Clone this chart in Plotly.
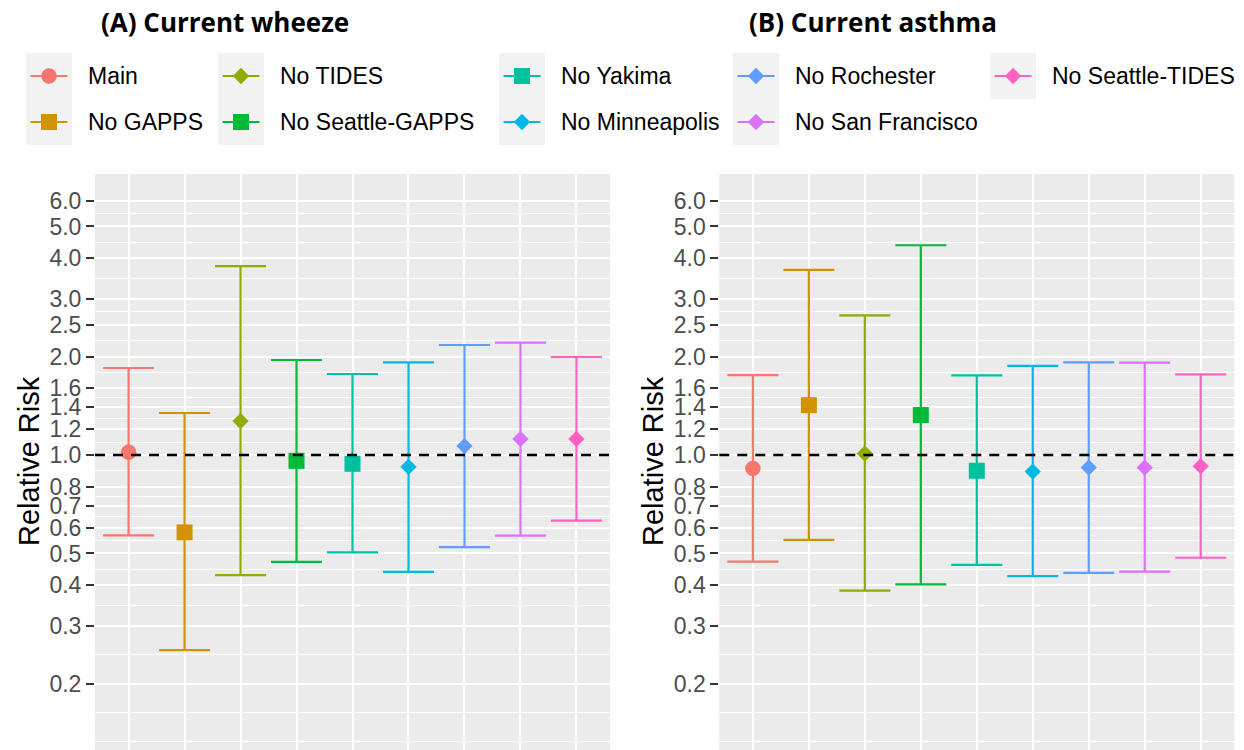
import math
import plotly.graph_objects as go

# ---------------- data ----------------
categories = ["Main", "No GAPPS", "No TIDES", "No Seattle-GAPPS", "No Yakima",
              "No Minneapolis", "No Rochester", "No San Francisco", "No Seattle-TIDES"]

wheeze_rr = [1.02, 0.58, 1.27, 0.96, 0.94, 0.92, 1.065, 1.12, 1.12]
wheeze_lo = [0.568, 0.253, 0.429, 0.471, 0.504, 0.439, 0.523, 0.567, 0.630]
wheeze_hi = [1.845, 1.344, 3.78, 1.952, 1.769, 1.92, 2.17, 2.206, 1.994]

asthma_rr = [0.91, 1.42, 1.01, 1.325, 0.895, 0.89, 0.915, 0.915, 0.924]
asthma_lo = [0.472, 0.550, 0.385, 0.402, 0.461, 0.426, 0.436, 0.440, 0.485]
asthma_hi = [1.756, 3.68, 2.674, 4.38, 1.752, 1.872, 1.92, 1.916, 1.765]

panel_titles = ["(A) Current wheeze", "(B) Current asthma"]
y_title = "Relative Risk"
y_breaks = [0.2, 0.3, 0.4, 0.5, 0.6, 0.7, 0.8, 1.0, 1.2, 1.4, 1.6, 2.0, 2.5, 3.0, 4.0, 5.0, 6.0]
y_labels = ["0.2", "0.3", "0.4", "0.5", "0.6", "0.7", "0.8", "1.0", "1.2", "1.4",
            "1.6", "2.0", "2.5", "3.0", "4.0", "5.0", "6.0"]
ref_value = 1.0

# ---------------- style ----------------
colors = ["#F8766D", "#D39200", "#93AA00", "#00BA38", "#00C19F",
          "#00B9E3", "#619CFF", "#DB72FB", "#FF61C3"]
symbols = ["circle", "square", "diamond", "square", "square",
           "diamond", "diamond", "diamond", "diamond"]
sym_size = {"circle": 15.5, "square": 16, "diamond": 12.5}

W, H = 1244, 750
FONT = "Liberation Sans, Arial, sans-serif"
TITLE_FONT = "Open Sans, Lato, sans-serif"

# panel geometry (pixels)
panel_top = 174
panelA = (95, 610)
panelB = (719.3, 1234.3)
px_per_decade = 327.0
y_one_px = 455.0
y_range = [-(H - y_one_px) / px_per_decade, (y_one_px - panel_top) / px_per_decade]

# minor grid (ggplot style: midpoints in log space + extrapolated break)
lb = [math.log10(v) for v in y_breaks]
ext = lb[0] - (lb[1] - lb[0])
allb = [ext] + lb
minor_vals = [10 ** ext] + [10 ** ((a + b) / 2) for a, b in zip(allb[:-1], allb[1:])]

fig = go.Figure()

datasets = [(wheeze_rr, wheeze_lo, wheeze_hi), (asthma_rr, asthma_lo, asthma_hi)]
for p, (rr, lo, hi) in enumerate(datasets):
    xa = "x" if p == 0 else "x2"
    ya = "y" if p == 0 else "y2"
    for i, cat in enumerate(categories):
        fig.add_trace(go.Scatter(
            x=[cat], y=[rr[i]], xaxis=xa, yaxis=ya, mode="markers",
            marker=dict(color=colors[i], symbol=symbols[i], size=sym_size[symbols[i]],
                        line=dict(width=0)),
            error_y=dict(type="data", symmetric=False,
                         array=[hi[i] - rr[i]], arrayminus=[rr[i] - lo[i]],
                         color=colors[i], thickness=2.2, width=25.5),
            showlegend=False, hoverinfo="skip"))

# ---------------- axes ----------------
def yaxis_cfg():
    return dict(type="log", range=y_range, domain=[0, 1 - panel_top / H],
                tickmode="array", tickvals=y_breaks, ticktext=y_labels,
                ticks="outside", ticklen=8, tickwidth=2, tickcolor="#333333",
                tickfont=dict(family=FONT, size=23, color="#4D4D4D"),
                showgrid=True, gridcolor="white", gridwidth=1.5,
                minor=dict(tickmode="array", tickvals=minor_vals, showgrid=True,
                           gridcolor="white", gridwidth=0.8, ticks=""),
                zeroline=False, showline=False, fixedrange=True)

def xaxis_cfg(rng):
    return dict(type="category", categoryorder="array", categoryarray=categories,
                range=[-0.6, len(categories) - 0.4], domain=[rng[0] / W, rng[1] / W],
                showticklabels=False, ticks="", showgrid=True, gridcolor="white",
                gridwidth=1.5, zeroline=False, showline=False, fixedrange=True)

fig.update_layout(
    width=W, height=H, margin=dict(l=0, r=0, t=0, b=0, pad=0),
    paper_bgcolor="white", plot_bgcolor="rgba(0,0,0,0)", showlegend=False,
    xaxis=dict(**xaxis_cfg(panelA), anchor="y"),
    yaxis=dict(**yaxis_cfg(), anchor="x"),
    xaxis2=dict(**xaxis_cfg(panelB), anchor="y2"),
    yaxis2=dict(**yaxis_cfg(), anchor="x2"),
    xaxis3=dict(domain=[0, 1], range=[0, W], visible=False, anchor="y3", fixedrange=True),
    yaxis3=dict(domain=[0, 1], range=[H, 0], visible=False, anchor="x3", fixedrange=True),
)

# panel backgrounds and reference lines at RR = 1
for xa, ya in (("x", "y"), ("x2", "y2")):
    fig.add_shape(type="rect", xref=f"{xa} domain", yref=f"{ya} domain", x0=0, x1=1, y0=0, y1=1,
                  fillcolor="#EBEBEB", line=dict(width=0), layer="below")
    fig.add_shape(type="line", xref=f"{xa} domain", yref=ya, x0=0, x1=1,
                  y0=ref_value, y1=ref_value, layer="above",
                  line=dict(color="black", width=2.4, dash="10px,8px"))

# panel titles and axis titles (overlay pixel axis)
title_x = [99, 747]
for p in range(2):
    fig.add_annotation(xref="x3", yref="y3", x=title_x[p], y=22, text=f"<b>{panel_titles[p]}</b>",
                       showarrow=False, xanchor="left", yanchor="middle",
                       font=dict(family=TITLE_FONT, size=26, color="black"))
ytitle_x = [29, 653]
for p in range(2):
    fig.add_annotation(xref="x3", yref="y3", x=ytitle_x[p], y=461, text=y_title, textangle=-90,
                       showarrow=False, xanchor="center", yanchor="middle",
                       font=dict(family=FONT, size=29, color="black"))

# ---------------- manual legend (ggplot layout, column-major) ----------------
col_left = [26, 218, 499, 733, 990]
key_w = 46
row_top = [53, 99]
for i, cat in enumerate(categories):
    c, r = i // 2, i % 2
    x0 = col_left[c]
    y0 = row_top[r]
    cy = y0 + key_w / 2
    fig.add_shape(type="rect", xref="x3", yref="y3", x0=x0, x1=x0 + key_w, y0=y0, y1=y0 + key_w,
                  fillcolor="#F2F2F2", line=dict(width=0), layer="below")
    fig.add_shape(type="line", xref="x3", yref="y3", x0=x0 + 4.5, x1=x0 + key_w - 4.5, y0=cy, y1=cy,
                  line=dict(color=colors[i], width=2.2), layer="below")
    fig.add_trace(go.Scatter(x=[x0 + key_w / 2], y=[cy], xaxis="x3", yaxis="y3", mode="markers",
                             marker=dict(color=colors[i], symbol=symbols[i],
                                         size=sym_size[symbols[i]], line=dict(width=0)),
                             showlegend=False, hoverinfo="skip"))
    fig.add_annotation(xref="x3", yref="y3", x=x0 + 60, y=cy, text=cat, showarrow=False,
                       xanchor="left", yanchor="middle",
                       font=dict(family=FONT, size=23, color="black"))

fig.write_html("out.html", config={"displayModeBar": False},
               post_script="document.body.style.margin='0';document.body.style.overflow='hidden';")
